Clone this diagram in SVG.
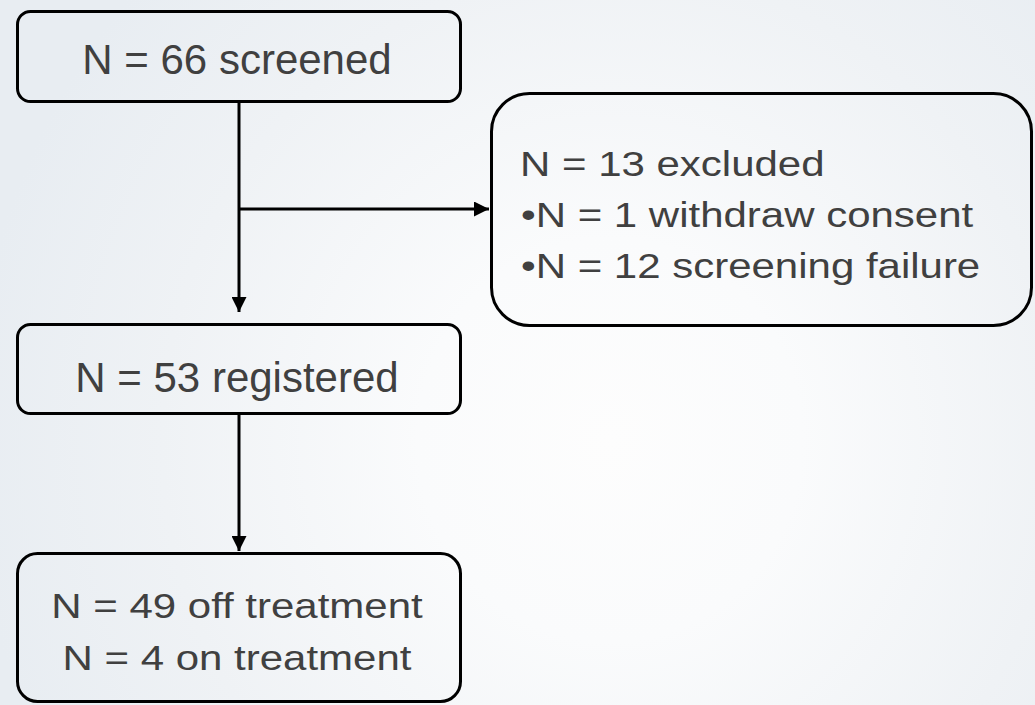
<svg xmlns="http://www.w3.org/2000/svg" width="1035" height="705" viewBox="0 0 1035 705">
  <style>
    .box { fill: none; stroke: #000000; stroke-width: 3; }
    .lbl { font-family: "Liberation Sans", Arial, sans-serif; font-size: 42px; fill: #404040; }
    .mid { text-anchor: middle; }
    .conn { stroke: #000000; stroke-width: 3; fill: none; }
  </style>
  <defs>
    <radialGradient id="bg" gradientUnits="userSpaceOnUse" cx="610" cy="440" r="640" gradientTransform="translate(610 440) scale(1 1.05) translate(-610 -440)">
      <stop offset="0" stop-color="#fdfdfd"/>
      <stop offset="0.3" stop-color="#fafbfc"/>
      <stop offset="0.7" stop-color="#eff2f5"/>
      <stop offset="1" stop-color="#e8edf2"/>
    </radialGradient>
    <marker id="arrow" markerUnits="userSpaceOnUse" markerWidth="15" markerHeight="15" refX="15" refY="7.5" orient="auto">
      <path d="M0,0 L15,7.5 L0,15 Z" fill="#000000"/>
    </marker>
  </defs>
  <rect x="0" y="0" width="1035" height="705" fill="url(#bg)"/>

  <g id="connectors">
    <line class="conn" x1="239" y1="103" x2="239" y2="312" marker-end="url(#arrow)"/>
    <line class="conn" x1="239" y1="209" x2="489" y2="209" marker-end="url(#arrow)"/>
    <line class="conn" x1="239" y1="415" x2="239" y2="551" marker-end="url(#arrow)"/>
  </g>

  <g id="screened">
    <rect class="box" x="17.5" y="11.5" width="443" height="90" rx="13"/>
    <text class="lbl mid" x="237" y="74">N = 66 screened</text>
  </g>

  <g id="excluded">
    <rect class="box" x="491.5" y="93.5" width="540" height="232" rx="38"/>
    <text class="lbl" transform="translate(520 176) scale(1 0.84)">N = 13 excluded</text>
    <text class="lbl" transform="translate(521 227) scale(1 0.84)">•N = 1 withdraw consent</text>
    <text class="lbl" transform="translate(521 278) scale(1 0.84)">•N = 12 screening failure</text>
  </g>

  <g id="registered">
    <rect class="box" x="17.5" y="324.5" width="443" height="89" rx="13"/>
    <text class="lbl mid" x="237" y="392">N = 53 registered</text>
  </g>

  <g id="treatment">
    <rect class="box" x="17.5" y="553.5" width="443" height="148" rx="20"/>
    <text class="lbl mid" transform="translate(237 618) scale(1 0.84)">N = 49 off treatment</text>
    <text class="lbl mid" transform="translate(237 670) scale(1 0.84)">N = 4 on treatment</text>
  </g>
</svg>
